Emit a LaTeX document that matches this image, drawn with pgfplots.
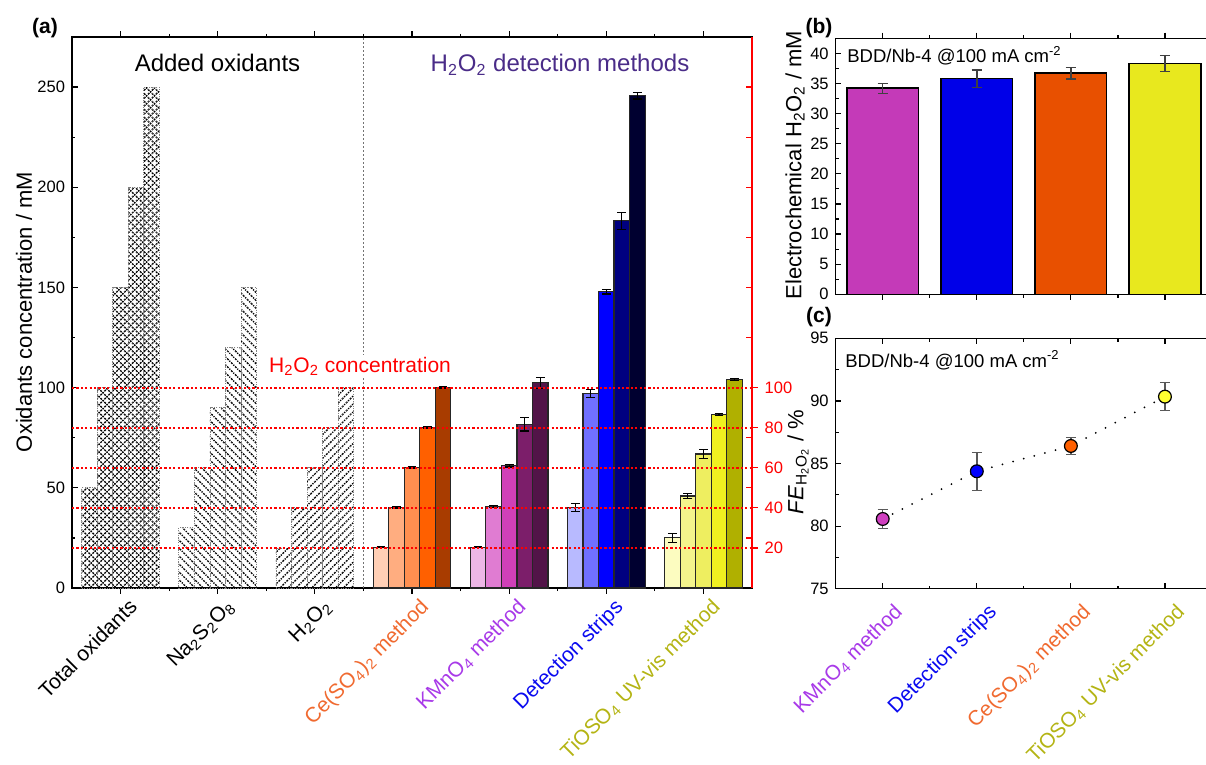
\documentclass[border=0pt]{standalone}
\usepackage{pgfplots}
\pgfplotsset{compat=1.18}
\usepackage{fontspec}
\setmainfont{Liberation Sans}
\usetikzlibrary{patterns.meta}

\definecolor{ceA}{HTML}{FFCFB5}
\definecolor{ceB}{HTML}{FFAD80}
\definecolor{ceC}{HTML}{FF8F50}
\definecolor{ceD}{HTML}{FF6000}
\definecolor{ceE}{HTML}{A83C00}
\definecolor{kmA}{HTML}{EDB6E6}
\definecolor{kmB}{HTML}{E07CD2}
\definecolor{kmC}{HTML}{D040B8}
\definecolor{kmD}{HTML}{7C1E6A}
\definecolor{kmE}{HTML}{521448}
\definecolor{dsA}{HTML}{B8BAFF}
\definecolor{dsB}{HTML}{7070FF}
\definecolor{dsC}{HTML}{0000FF}
\definecolor{dsD}{HTML}{000080}
\definecolor{dsE}{HTML}{000030}
\definecolor{tiA}{HTML}{FCFCC0}
\definecolor{tiB}{HTML}{F4F48C}
\definecolor{tiC}{HTML}{EEEE60}
\definecolor{tiD}{HTML}{F0F020}
\definecolor{tiE}{HTML}{B0B000}
\definecolor{bKM}{HTML}{C43AB8}
\definecolor{bDS}{HTML}{0000E8}
\definecolor{bCE}{HTML}{E85000}
\definecolor{bTI}{HTML}{E8E81E}
\definecolor{cKM}{HTML}{D040C0}
\definecolor{cDS}{HTML}{0000FF}
\definecolor{cCE}{HTML}{FF6000}
\definecolor{cTI}{HTML}{FFFF30}
\definecolor{lCE}{HTML}{F06A30}
\definecolor{lKM}{HTML}{A83AE8}
\definecolor{lDS}{HTML}{0A0AF0}
\definecolor{lTI}{HTML}{B4B414}
\definecolor{hdm}{HTML}{4A2C88}

\newcommand{\tickfont}{\fontsize{8.25}{9.5}\selectfont}
\newcommand{\labfont}{\fontsize{11}{13}\selectfont}
\newcommand{\catfont}{\fontsize{10.5}{12}\selectfont}
\newcommand{\ccatfont}{\fontsize{10.4}{12}\selectfont}
\newcommand{\sub}[1]{\textsubscript{#1}}

\tikzset{
  catlab/.style={xshift=3.5pt, yshift=-4.5pt, rotate=45, anchor=north east, inner sep=0pt, font=\catfont},
  ccatlab/.style={xshift=5pt, yshift=-6.5pt, rotate=45, anchor=north east, inner sep=0pt, font=\ccatfont},
}

\pgfplotsset{
  every axis/.append style={
    scale only axis, anchor=south west,
    tick align=inside,
    major tick length=2.8pt, minor tick length=1.6pt,
    tick style={line width=0.6pt, black},
    axis line style={line width=0.7pt},
    ticklabel style={font=\tickfont},
    /pgf/number format/assume math mode=true,
  },
  colbar/.style={fill=#1, draw=black!85, line width=0.6pt,
    error bars/.cd, y dir=both, y explicit,
    error bar style={line width=0.6pt, black},
    error mark options={rotate=90, mark size=2.2pt, line width=0.6pt, black}},
  bbar/.style={fill=#1, draw=black, line width=0.8pt,
    error bars/.cd, y dir=both, y explicit,
    error bar style={line width=0.7pt, black!75},
    error mark options={rotate=90, mark size=2.6pt, line width=0.7pt, black!75}},
  hatchbar/.style={draw=black!50, line width=0.4pt, dash pattern=on 0.6pt off 0.6pt,
    pattern={Lines[angle=#1, distance=2.8pt, line width=0.7pt]}, pattern color=black},
  redline/.style={sharp plot, red, line width=1pt, dash pattern=on 1.1pt off 1.1pt, forget plot},
}

\begin{document}
\begin{tikzpicture}
\useasboundingbox (0,0) rectangle (603pt,-382.5pt);

% ---------------- panel (a) ----------------
\begin{axis}[
  at={(36pt,-294pt)}, width=340pt, height=275.5pt,
  xmin=0.5, xmax=7.5, ymin=0, ymax=275,
  clip=false,
  ybar, bar width=0.16, bar shift=0pt,
  xtick={1,2,3,4,5,6,7}, xticklabels={}, minor x tick num=1,
  ytick={0,50,100,150,200,250}, minor y tick num=1, ytick pos=left,
]
\draw[black!55, line width=0.5pt, dash pattern=on 1pt off 1pt] (axis cs:3.5,0) -- (axis cs:3.5,275);
% hatched bars
\addplot[hatchbar=45] coordinates {(0.68,50) (0.84,100) (1,150) (1.16,200) (1.32,250)};
\addplot[hatchbar=-45] coordinates {(0.68,50) (0.84,100) (1,150) (1.16,200) (1.32,250)};
\addplot[hatchbar=-45] coordinates {(1.68,30) (1.84,60) (2,90) (2.16,120) (2.32,150)};
\addplot[hatchbar=45] coordinates {(2.68,20) (2.84,40) (3,60) (3.16,80) (3.32,100)};
% Ce(SO4)2
\addplot[colbar=ceA] coordinates {(3.68,20.4) +- (0,0.3)};
\addplot[colbar=ceB] coordinates {(3.84,40.1) +- (0,0.3)};
\addplot[colbar=ceC] coordinates {(4.00,60.2) +- (0,0.3)};
\addplot[colbar=ceD] coordinates {(4.16,80.1) +- (0,0.3)};
\addplot[colbar=ceE] coordinates {(4.32,100.1) +- (0,0.3)};
% KMnO4
\addplot[colbar=kmA] coordinates {(4.68,20.4) +- (0,0.3)};
\addplot[colbar=kmB] coordinates {(4.84,40.6) +- (0,0.5)};
\addplot[colbar=kmC] coordinates {(5.00,61.0) +- (0,0.6)};
\addplot[colbar=kmD] coordinates {(5.16,81.7) +- (0,3.3)};
\addplot[colbar=kmE] coordinates {(5.32,102.4) +- (0,2.8)};
% Detection strips
\addplot[colbar=dsA] coordinates {(5.68,40.3) +- (0,2.0)};
\addplot[colbar=dsB] coordinates {(5.84,97.2) +- (0,2.0)};
\addplot[colbar=dsC] coordinates {(6.00,147.9) +- (0,1.2)};
\addplot[colbar=dsD] coordinates {(6.16,183.3) +- (0,4.2)};
\addplot[colbar=dsE] coordinates {(6.32,245.7) +- (0,1.6)};
% TiOSO4
\addplot[colbar=tiA] coordinates {(6.68,25.1) +- (0,2.2)};
\addplot[colbar=tiB] coordinates {(6.84,45.9) +- (0,1.1)};
\addplot[colbar=tiC] coordinates {(7.00,66.9) +- (0,2.4)};
\addplot[colbar=tiD] coordinates {(7.16,86.7) +- (0,0.5)};
\addplot[colbar=tiE] coordinates {(7.32,104.1) +- (0,0.6)};
% red reference lines
\addplot[redline] coordinates {(0.5,20) (7.5,20)};
\addplot[redline] coordinates {(0.5,40) (7.5,40)};
\addplot[redline] coordinates {(0.5,60) (7.5,60)};
\addplot[redline] coordinates {(0.5,80) (7.5,80)};
\addplot[redline] coordinates {(0.5,100) (7.5,100)};
% category labels
\node[catlab] at (axis cs:1,0) {Total oxidants};
\node[catlab] at (axis cs:2,0) {Na\sub{2}S\sub{2}O\sub{8}};
\node[catlab] at (axis cs:3,0) {H\sub{2}O\sub{2}};
\node[catlab, text=lCE] at (axis cs:4,0) {Ce(SO\sub{4})\sub{2} method};
\node[catlab, text=lKM] at (axis cs:5,0) {KMnO\sub{4} method};
\node[catlab, text=lDS] at (axis cs:6,0) {Detection strips};
\node[catlab, text=lTI] at (axis cs:7,0) {TiOSO\sub{4} UV-vis method};
\end{axis}

% red right axis of (a)
\begin{axis}[
  at={(36pt,-294pt)}, width=340pt, height=275.5pt,
  xmin=0.5, xmax=7.5, ymin=0, ymax=275,
  axis x line=none, axis y line*=right,
  y axis line style={red, line width=0.7pt, -},
  ytick={20,40,60,80,100}, yticklabel style={red},
  tick style={red, line width=0.6pt}, tick align=outside,
  extra y ticks={25,50,75,125,150,175,200,225,250}, extra y tick labels={},
  extra y tick style={tick align=inside},
]
\end{axis}

% ---------------- panel (b) ----------------
\begin{axis}[
  at={(417.85pt,-147.15pt)}, width=188.15pt, height=128pt,
  xmin=0.5, xmax=4.5, ymin=0, ymax=42.5,
  ybar, bar width=0.76, bar shift=0pt,
  xtick={1,2,3,4}, xticklabels={}, minor x tick num=1,
  ytick={0,5,10,15,20,25,30,35,40}, minor y tick num=1, ytick pos=left,
]
\addplot[bbar=bKM] coordinates {(1,34.2) +- (0,0.83)};
\addplot[bbar=bDS] coordinates {(2,35.8) +- (0,1.45)};
\addplot[bbar=bCE] coordinates {(3,36.7) +- (0,0.94)};
\addplot[bbar=bTI] coordinates {(4,38.3) +- (0,1.3)};
\end{axis}

% ---------------- panel (c) ----------------
\begin{axis}[
  at={(417.85pt,-294.35pt)}, width=188.15pt, height=125.2pt,
  xmin=0.5, xmax=4.5, ymin=75, ymax=95,
  xtick={1,2,3,4}, xticklabels={}, minor x tick num=1,
  ytick={75,80,85,90,95}, minor y tick num=1, ytick pos=left,
  clip=false,
]
\addplot[black, line width=1pt, dash pattern=on 0pt off 5.5pt, line cap=round] coordinates {(1,80.57) (2,84.38) (3,86.4) (4,90.34)};
\addplot[draw=none, mark=none, error bars/.cd, y dir=both, y explicit,
  error bar style={black!65, line width=0.7pt},
  error mark options={rotate=90, black!65, mark size=2.5pt, line width=0.7pt}]
  coordinates {(1,80.57) +- (0,0.76) (2,84.38) +- (0,1.52) (3,86.4) +- (0,0.7) (4,90.34) +- (0,1.13)};
\addplot[only marks, mark=*, mark size=3.2pt, mark options={fill=cKM, draw=black, line width=0.6pt}] coordinates {(1,80.57)};
\addplot[only marks, mark=*, mark size=3.2pt, mark options={fill=cDS, draw=black, line width=0.6pt}] coordinates {(2,84.38)};
\addplot[only marks, mark=*, mark size=3.2pt, mark options={fill=cCE, draw=black, line width=0.6pt}] coordinates {(3,86.4)};
\addplot[only marks, mark=*, mark size=3.2pt, mark options={fill=cTI, draw=black, line width=0.6pt}] coordinates {(4,90.34)};
\node[ccatlab, text=lKM] at (axis cs:1,75) {KMnO\sub{4} method};
\node[ccatlab, text=lDS] at (axis cs:2,75) {Detection strips};
\node[ccatlab, text=lCE] at (axis cs:3,75) {Ce(SO\sub{4})\sub{2} method};
\node[ccatlab, text=lTI] at (axis cs:4,75) {TiOSO\sub{4} UV-vis method};
\end{axis}

% ---------------- texts ----------------
\node[font=\bfseries\fontsize{10.5}{12}\selectfont] at (22.5pt,-14pt) {(a)};
\node[font=\bfseries\fontsize{10.5}{12}\selectfont] at (409.5pt,-14pt) {(b)};
\node[font=\bfseries\fontsize{10.5}{12}\selectfont] at (409.5pt,-158.5pt) {(c)};
\node[font=\fontsize{12}{14}\selectfont, anchor=base] at (108.75pt,-36pt) {Added oxidants};
\node[font=\fontsize{12}{14}\selectfont, anchor=base, text=hdm] at (280pt,-36pt) {H\sub{2}O\sub{2} detection methods};
\node[font=\fontsize{10.5}{12}\selectfont, anchor=base, text=red, fill=white, inner sep=1pt] at (180pt,-186pt) {H\sub{2}O\sub{2} concentration};
\node[font=\labfont, rotate=90] at (12pt,-156pt) {Oxidants concentration / mM};
\node[font=\labfont, rotate=90] at (397.5pt,-82.5pt) {Electrochemical H\sub{2}O\sub{2} / mM};
\node[font=\labfont, rotate=90] at (399pt,-231pt) {\textit{FE}\sub{H\sub{2}O\sub{2}} / \%};
\node[font=\fontsize{9.25}{11}\selectfont, anchor=base west, inner sep=0pt] at (423.5pt,-31.5pt) {BDD/Nb-4 @100 mA cm\textsuperscript{-2}};
\node[font=\fontsize{9.25}{11}\selectfont, anchor=base west, inner sep=0pt] at (422.5pt,-183.5pt) {BDD/Nb-4 @100 mA cm\textsuperscript{-2}};
\end{tikzpicture}
\end{document}
